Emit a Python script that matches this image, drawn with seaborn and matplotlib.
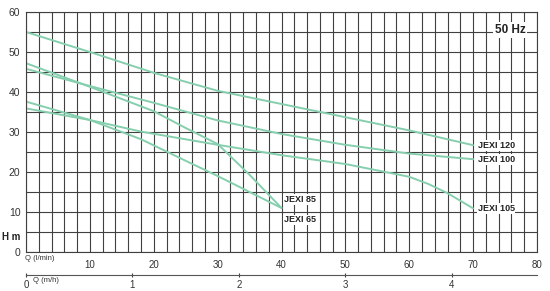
import numpy as np
import pandas as pd
import matplotlib
matplotlib.use("Agg")
import matplotlib.pyplot as plt
import seaborn as sns

# ---- data (Q in l/min, H in m) ----
q_120 = [0, 10, 20, 30, 40, 50, 60, 70]
h_120 = [55.0, 50.0, 44.8, 40.3, 37.0, 33.7, 30.4, 26.7]

q_100 = [0, 10, 20, 30, 40, 50, 60, 70]
h_100 = [45.8, 41.5, 37.3, 32.9, 29.5, 26.8, 24.6, 23.2]

q_105 = [0, 10, 18, 30, 40, 50, 55, 60, 63, 66, 70]
h_105 = [35.9, 33.0, 30.1, 26.8, 24.2, 22.0, 20.4, 18.8, 17.0, 14.7, 10.9]

q_85 = [0, 10, 20, 25, 30, 35, 40]
h_85 = [47.2, 41.3, 35.2, 31.0, 27.0, 19.3, 11.0]

q_65 = [0, 10, 18, 25, 30, 35, 40]
h_65 = [37.6, 33.0, 28.2, 22.8, 19.0, 15.0, 11.0]

models = ["JEXI 120", "JEXI 100", "JEXI 105", "JEXI 85", "JEXI 65"]
label_x = [70.7, 70.7, 70.7, 40.4, 40.4]
label_y = [26.6, 23.1, 10.9, 13.2, 8.0]

x_ticks = [10, 20, 30, 40, 50, 60, 70, 80]
y_ticks = [0, 10, 20, 30, 40, 50, 60]
m3h_ticks = [0, 1, 2, 3, 4]

frames = []
for name, q, h in zip(models, [q_120, q_100, q_105, q_85, q_65],
                      [h_120, h_100, h_105, h_85, h_65]):
    frames.append(pd.DataFrame({"Q": q, "H": h, "model": name}))
df = pd.concat(frames, ignore_index=True)

sns.set_style("white")
plt.rcParams["font.family"] = ["Liberation Sans", "DejaVu Sans"]

fig = plt.figure(figsize=(5.5, 2.91), dpi=100)
ax = fig.add_axes([26 / 550, 1 - 252 / 291, (537 - 26) / 550, (252 - 12) / 291])

line_color = "#86cfae"
sns.lineplot(data=df, x="Q", y="H", hue="model", units="model", estimator=None,
             palette={m: line_color for m in models}, linewidth=1.4,
             legend=False, ax=ax, sort=False)

ax.set_xlim(0, 80)
ax.set_ylim(0, 60)
ax.set_xticks(x_ticks)
ax.set_xticks(np.arange(0, 81, 2), minor=True)
ax.set_yticks(y_ticks)
ax.set_yticks(np.arange(0, 61, 5), minor=True)
ax.grid(True, which="both", color="#404040", linewidth=0.8)
ax.set_axisbelow(True)
for s in ax.spines.values():
    s.set_color("#404040")
    s.set_linewidth(0.8)
ax.tick_params(axis="x", which="both", length=2, color="#404040",
               labelsize=7, labelcolor="#333333", pad=4)
ax.tick_params(axis="y", which="major", length=2, color="#404040",
               labelsize=7.5, labelcolor="#333333", pad=2)
ax.tick_params(axis="y", which="minor", length=0)
ax.set_xlabel("")
ax.set_ylabel("")

for name, lx, ly in zip(models, label_x, label_y):
    ax.text(lx, ly, name, fontsize=6.5, fontweight="bold", color="#222222",
            ha="left", va="center",
            bbox=dict(boxstyle="square,pad=0.1", fc="white", ec="none"))

ax.text(78.2, 55.5, "50 Hz", fontsize=8.5, fontweight="bold", color="#222222",
        ha="right", va="center",
        bbox=dict(boxstyle="square,pad=0.15", fc="white", ec="none"))

fig.text(2 / 550, 1 - 237 / 291, "H m", fontsize=7, fontweight="bold",
         color="#222222", ha="left", va="center")
fig.text(25 / 550, 1 - 258 / 291, "Q (l/min)", fontsize=5.5, color="#333333",
         ha="left", va="center")
fig.text(33 / 550, 1 - 281 / 291, "Q (m/h)", fontsize=5.5, color="#333333",
         ha="left", va="center")

sec = ax.secondary_xaxis((252 - 275) / 240, functions=(lambda q: q * 0.06,
                                                        lambda m: m / 0.06))
sec.set_xticks(m3h_ticks)
sec.tick_params(axis="x", length=3, direction="inout", color="#404040",
                labelsize=7, labelcolor="#333333", pad=2)
sec.spines["bottom"].set_color("#555555")
sec.spines["bottom"].set_linewidth(0.8)

fig.savefig("out.png", dpi=100)
